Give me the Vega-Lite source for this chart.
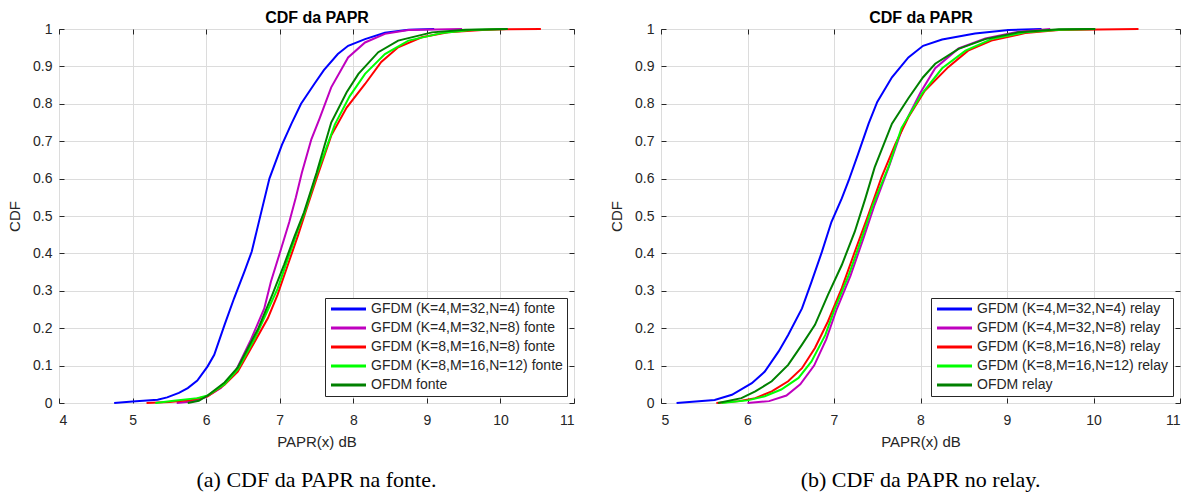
{
"$schema": "https://vega.github.io/schema/vega-lite/v6.json",
"background": "white",
"padding": {"left": 7, "top": 9, "right": 5, "bottom": 5},
"config": {
  "font": "Liberation Sans",
  "view": {"stroke": "#262626", "strokeWidth": 1},
  "concat": {"spacing": 34},
  "axis": {"labelFont": "Liberation Sans", "labelFontSize": 14, "labelColor": "#262626", "titleFont": "Liberation Sans", "titleFontSize": 15, "titleFontWeight": "normal", "titleColor": "#262626", "gridColor": "#dcdcdc", "gridWidth": 1, "domain": false, "tickColor": "#262626", "tickSize": -5, "labelPadding": 12},
  "axisX": {"labelPadding": 15, "titlePadding": 7},
  "legend": {"orient": "bottom-right", "offset": 7, "fillColor": "white", "strokeColor": "#262626", "padding": 4, "rowPadding": 5, "cornerRadius": 0, "symbolType": "M-1,0H6", "symbolSize": 100, "symbolStrokeWidth": 3, "labelFont": "Liberation Sans", "labelFontSize": 14, "labelColor": "#262626", "labelOffset": 28, "labelLimit": 400, "title": null},
  "title": {"font": "Liberation Serif", "fontSize": 22, "fontWeight": "normal", "color": "black", "orient": "bottom", "anchor": "middle", "frame": "group", "offset": 21}
},
"datasets": {
  "fonte": [
    {"s":"GFDM (K=4,M=32,N=4) fonte","x":4.75,"y":0},{"s":"GFDM (K=4,M=32,N=4) fonte","x":5.0,"y":0.004},{"s":"GFDM (K=4,M=32,N=4) fonte","x":5.34,"y":0.009},{"s":"GFDM (K=4,M=32,N=4) fonte","x":5.47,"y":0.015},{"s":"GFDM (K=4,M=32,N=4) fonte","x":5.63,"y":0.027},{"s":"GFDM (K=4,M=32,N=4) fonte","x":5.75,"y":0.04},{"s":"GFDM (K=4,M=32,N=4) fonte","x":5.88,"y":0.06},{"s":"GFDM (K=4,M=32,N=4) fonte","x":6.02,"y":0.098},{"s":"GFDM (K=4,M=32,N=4) fonte","x":6.11,"y":0.129},{"s":"GFDM (K=4,M=32,N=4) fonte","x":6.25,"y":0.209},{"s":"GFDM (K=4,M=32,N=4) fonte","x":6.38,"y":0.28},{"s":"GFDM (K=4,M=32,N=4) fonte","x":6.52,"y":0.351},{"s":"GFDM (K=4,M=32,N=4) fonte","x":6.62,"y":0.405},{"s":"GFDM (K=4,M=32,N=4) fonte","x":6.73,"y":0.495},{"s":"GFDM (K=4,M=32,N=4) fonte","x":6.86,"y":0.6},{"s":"GFDM (K=4,M=32,N=4) fonte","x":7.03,"y":0.69},{"s":"GFDM (K=4,M=32,N=4) fonte","x":7.16,"y":0.747},{"s":"GFDM (K=4,M=32,N=4) fonte","x":7.29,"y":0.8},{"s":"GFDM (K=4,M=32,N=4) fonte","x":7.47,"y":0.853},{"s":"GFDM (K=4,M=32,N=4) fonte","x":7.6,"y":0.89},{"s":"GFDM (K=4,M=32,N=4) fonte","x":7.79,"y":0.933},{"s":"GFDM (K=4,M=32,N=4) fonte","x":7.93,"y":0.955},{"s":"GFDM (K=4,M=32,N=4) fonte","x":8.16,"y":0.973},{"s":"GFDM (K=4,M=32,N=4) fonte","x":8.43,"y":0.99},{"s":"GFDM (K=4,M=32,N=4) fonte","x":8.75,"y":0.998},{"s":"GFDM (K=4,M=32,N=4) fonte","x":9.1,"y":1.0},
    {"s":"GFDM (K=4,M=32,N=8) fonte","x":5.6,"y":0},{"s":"GFDM (K=4,M=32,N=8) fonte","x":5.8,"y":0.004},{"s":"GFDM (K=4,M=32,N=8) fonte","x":6.0,"y":0.016},{"s":"GFDM (K=4,M=32,N=8) fonte","x":6.2,"y":0.04},{"s":"GFDM (K=4,M=32,N=8) fonte","x":6.4,"y":0.085},{"s":"GFDM (K=4,M=32,N=8) fonte","x":6.61,"y":0.17},{"s":"GFDM (K=4,M=32,N=8) fonte","x":6.79,"y":0.253},{"s":"GFDM (K=4,M=32,N=8) fonte","x":6.88,"y":0.324},{"s":"GFDM (K=4,M=32,N=8) fonte","x":7.02,"y":0.413},{"s":"GFDM (K=4,M=32,N=8) fonte","x":7.13,"y":0.484},{"s":"GFDM (K=4,M=32,N=8) fonte","x":7.22,"y":0.55},{"s":"GFDM (K=4,M=32,N=8) fonte","x":7.3,"y":0.615},{"s":"GFDM (K=4,M=32,N=8) fonte","x":7.43,"y":0.705},{"s":"GFDM (K=4,M=32,N=8) fonte","x":7.54,"y":0.76},{"s":"GFDM (K=4,M=32,N=8) fonte","x":7.7,"y":0.844},{"s":"GFDM (K=4,M=32,N=8) fonte","x":7.93,"y":0.924},{"s":"GFDM (K=4,M=32,N=8) fonte","x":8.16,"y":0.964},{"s":"GFDM (K=4,M=32,N=8) fonte","x":8.43,"y":0.987},{"s":"GFDM (K=4,M=32,N=8) fonte","x":8.75,"y":0.997},{"s":"GFDM (K=4,M=32,N=8) fonte","x":9.48,"y":1.0},
    {"s":"GFDM (K=8,M=16,N=8) fonte","x":5.19,"y":0},{"s":"GFDM (K=8,M=16,N=8) fonte","x":5.5,"y":0.003},{"s":"GFDM (K=8,M=16,N=8) fonte","x":5.8,"y":0.008},{"s":"GFDM (K=8,M=16,N=8) fonte","x":6.02,"y":0.018},{"s":"GFDM (K=8,M=16,N=8) fonte","x":6.25,"y":0.049},{"s":"GFDM (K=8,M=16,N=8) fonte","x":6.43,"y":0.084},{"s":"GFDM (K=8,M=16,N=8) fonte","x":6.66,"y":0.164},{"s":"GFDM (K=8,M=16,N=8) fonte","x":6.84,"y":0.227},{"s":"GFDM (K=8,M=16,N=8) fonte","x":6.97,"y":0.289},{"s":"GFDM (K=8,M=16,N=8) fonte","x":7.11,"y":0.369},{"s":"GFDM (K=8,M=16,N=8) fonte","x":7.25,"y":0.449},{"s":"GFDM (K=8,M=16,N=8) fonte","x":7.35,"y":0.51},{"s":"GFDM (K=8,M=16,N=8) fonte","x":7.5,"y":0.6},{"s":"GFDM (K=8,M=16,N=8) fonte","x":7.7,"y":0.715},{"s":"GFDM (K=8,M=16,N=8) fonte","x":7.91,"y":0.79},{"s":"GFDM (K=8,M=16,N=8) fonte","x":8.16,"y":0.853},{"s":"GFDM (K=8,M=16,N=8) fonte","x":8.38,"y":0.912},{"s":"GFDM (K=8,M=16,N=8) fonte","x":8.61,"y":0.951},{"s":"GFDM (K=8,M=16,N=8) fonte","x":8.93,"y":0.978},{"s":"GFDM (K=8,M=16,N=8) fonte","x":9.29,"y":0.991},{"s":"GFDM (K=8,M=16,N=8) fonte","x":9.75,"y":0.997},{"s":"GFDM (K=8,M=16,N=8) fonte","x":10.07,"y":0.999},{"s":"GFDM (K=8,M=16,N=8) fonte","x":10.55,"y":1.0},
    {"s":"GFDM (K=8,M=16,N=12) fonte","x":5.31,"y":0},{"s":"GFDM (K=8,M=16,N=12) fonte","x":5.56,"y":0.006},{"s":"GFDM (K=8,M=16,N=12) fonte","x":5.88,"y":0.013},{"s":"GFDM (K=8,M=16,N=12) fonte","x":6.02,"y":0.02},{"s":"GFDM (K=8,M=16,N=12) fonte","x":6.25,"y":0.05},{"s":"GFDM (K=8,M=16,N=12) fonte","x":6.43,"y":0.09},{"s":"GFDM (K=8,M=16,N=12) fonte","x":6.66,"y":0.172},{"s":"GFDM (K=8,M=16,N=12) fonte","x":6.8,"y":0.232},{"s":"GFDM (K=8,M=16,N=12) fonte","x":6.97,"y":0.305},{"s":"GFDM (K=8,M=16,N=12) fonte","x":7.11,"y":0.385},{"s":"GFDM (K=8,M=16,N=12) fonte","x":7.25,"y":0.465},{"s":"GFDM (K=8,M=16,N=12) fonte","x":7.34,"y":0.51},{"s":"GFDM (K=8,M=16,N=12) fonte","x":7.5,"y":0.61},{"s":"GFDM (K=8,M=16,N=12) fonte","x":7.75,"y":0.745},{"s":"GFDM (K=8,M=16,N=12) fonte","x":7.95,"y":0.82},{"s":"GFDM (K=8,M=16,N=12) fonte","x":8.16,"y":0.88},{"s":"GFDM (K=8,M=16,N=12) fonte","x":8.43,"y":0.933},{"s":"GFDM (K=8,M=16,N=12) fonte","x":8.75,"y":0.969},{"s":"GFDM (K=8,M=16,N=12) fonte","x":9.2,"y":0.989},{"s":"GFDM (K=8,M=16,N=12) fonte","x":9.6,"y":0.997},{"s":"GFDM (K=8,M=16,N=12) fonte","x":10.07,"y":1.0},
    {"s":"OFDM fonte","x":5.75,"y":0},{"s":"OFDM fonte","x":5.9,"y":0.006},{"s":"OFDM fonte","x":6.02,"y":0.02},{"s":"OFDM fonte","x":6.25,"y":0.055},{"s":"OFDM fonte","x":6.43,"y":0.095},{"s":"OFDM fonte","x":6.71,"y":0.2},{"s":"OFDM fonte","x":6.9,"y":0.29},{"s":"OFDM fonte","x":7.06,"y":0.37},{"s":"OFDM fonte","x":7.2,"y":0.445},{"s":"OFDM fonte","x":7.33,"y":0.51},{"s":"OFDM fonte","x":7.5,"y":0.615},{"s":"OFDM fonte","x":7.7,"y":0.75},{"s":"OFDM fonte","x":7.91,"y":0.831},{"s":"OFDM fonte","x":8.07,"y":0.88},{"s":"OFDM fonte","x":8.34,"y":0.938},{"s":"OFDM fonte","x":8.61,"y":0.969},{"s":"OFDM fonte","x":9.07,"y":0.991},{"s":"OFDM fonte","x":9.52,"y":0.998},{"s":"OFDM fonte","x":10.1,"y":1.0}
  ],
  "relay": [
    {"s":"GFDM (K=4,M=32,N=4) relay","x":5.18,"y":0},{"s":"GFDM (K=4,M=32,N=4) relay","x":5.62,"y":0.008},{"s":"GFDM (K=4,M=32,N=4) relay","x":5.82,"y":0.022},{"s":"GFDM (K=4,M=32,N=4) relay","x":6.05,"y":0.053},{"s":"GFDM (K=4,M=32,N=4) relay","x":6.2,"y":0.084},{"s":"GFDM (K=4,M=32,N=4) relay","x":6.36,"y":0.138},{"s":"GFDM (K=4,M=32,N=4) relay","x":6.47,"y":0.182},{"s":"GFDM (K=4,M=32,N=4) relay","x":6.63,"y":0.253},{"s":"GFDM (K=4,M=32,N=4) relay","x":6.74,"y":0.324},{"s":"GFDM (K=4,M=32,N=4) relay","x":6.86,"y":0.404},{"s":"GFDM (K=4,M=32,N=4) relay","x":6.97,"y":0.484},{"s":"GFDM (K=4,M=32,N=4) relay","x":7.09,"y":0.547},{"s":"GFDM (K=4,M=32,N=4) relay","x":7.17,"y":0.595},{"s":"GFDM (K=4,M=32,N=4) relay","x":7.28,"y":0.667},{"s":"GFDM (K=4,M=32,N=4) relay","x":7.4,"y":0.747},{"s":"GFDM (K=4,M=32,N=4) relay","x":7.5,"y":0.805},{"s":"GFDM (K=4,M=32,N=4) relay","x":7.67,"y":0.871},{"s":"GFDM (K=4,M=32,N=4) relay","x":7.86,"y":0.924},{"s":"GFDM (K=4,M=32,N=4) relay","x":8.03,"y":0.955},{"s":"GFDM (K=4,M=32,N=4) relay","x":8.25,"y":0.972},{"s":"GFDM (K=4,M=32,N=4) relay","x":8.63,"y":0.988},{"s":"GFDM (K=4,M=32,N=4) relay","x":9.02,"y":0.997},{"s":"GFDM (K=4,M=32,N=4) relay","x":9.4,"y":1.0},
    {"s":"GFDM (K=4,M=32,N=8) relay","x":6.0,"y":0},{"s":"GFDM (K=4,M=32,N=8) relay","x":6.25,"y":0.005},{"s":"GFDM (K=4,M=32,N=8) relay","x":6.45,"y":0.02},{"s":"GFDM (K=4,M=32,N=8) relay","x":6.61,"y":0.05},{"s":"GFDM (K=4,M=32,N=8) relay","x":6.77,"y":0.1},{"s":"GFDM (K=4,M=32,N=8) relay","x":6.91,"y":0.17},{"s":"GFDM (K=4,M=32,N=8) relay","x":7.03,"y":0.25},{"s":"GFDM (K=4,M=32,N=8) relay","x":7.19,"y":0.34},{"s":"GFDM (K=4,M=32,N=8) relay","x":7.34,"y":0.44},{"s":"GFDM (K=4,M=32,N=8) relay","x":7.47,"y":0.53},{"s":"GFDM (K=4,M=32,N=8) relay","x":7.64,"y":0.635},{"s":"GFDM (K=4,M=32,N=8) relay","x":7.79,"y":0.735},{"s":"GFDM (K=4,M=32,N=8) relay","x":8.0,"y":0.83},{"s":"GFDM (K=4,M=32,N=8) relay","x":8.17,"y":0.895},{"s":"GFDM (K=4,M=32,N=8) relay","x":8.44,"y":0.948},{"s":"GFDM (K=4,M=32,N=8) relay","x":8.75,"y":0.975},{"s":"GFDM (K=4,M=32,N=8) relay","x":9.13,"y":0.993},{"s":"GFDM (K=4,M=32,N=8) relay","x":9.5,"y":1.0},
    {"s":"GFDM (K=8,M=16,N=8) relay","x":5.64,"y":0},{"s":"GFDM (K=8,M=16,N=8) relay","x":5.9,"y":0.005},{"s":"GFDM (K=8,M=16,N=8) relay","x":6.09,"y":0.013},{"s":"GFDM (K=8,M=16,N=8) relay","x":6.28,"y":0.031},{"s":"GFDM (K=8,M=16,N=8) relay","x":6.47,"y":0.058},{"s":"GFDM (K=8,M=16,N=8) relay","x":6.63,"y":0.093},{"s":"GFDM (K=8,M=16,N=8) relay","x":6.78,"y":0.147},{"s":"GFDM (K=8,M=16,N=8) relay","x":6.93,"y":0.218},{"s":"GFDM (K=8,M=16,N=8) relay","x":7.09,"y":0.307},{"s":"GFDM (K=8,M=16,N=8) relay","x":7.24,"y":0.404},{"s":"GFDM (K=8,M=16,N=8) relay","x":7.4,"y":0.505},{"s":"GFDM (K=8,M=16,N=8) relay","x":7.55,"y":0.604},{"s":"GFDM (K=8,M=16,N=8) relay","x":7.71,"y":0.693},{"s":"GFDM (K=8,M=16,N=8) relay","x":7.86,"y":0.764},{"s":"GFDM (K=8,M=16,N=8) relay","x":8.05,"y":0.835},{"s":"GFDM (K=8,M=16,N=8) relay","x":8.32,"y":0.898},{"s":"GFDM (K=8,M=16,N=8) relay","x":8.55,"y":0.942},{"s":"GFDM (K=8,M=16,N=8) relay","x":8.82,"y":0.969},{"s":"GFDM (K=8,M=16,N=8) relay","x":9.21,"y":0.989},{"s":"GFDM (K=8,M=16,N=8) relay","x":9.6,"y":0.997},{"s":"GFDM (K=8,M=16,N=8) relay","x":10.52,"y":1.0},
    {"s":"GFDM (K=8,M=16,N=12) relay","x":5.7,"y":0},{"s":"GFDM (K=8,M=16,N=12) relay","x":6.0,"y":0.007},{"s":"GFDM (K=8,M=16,N=12) relay","x":6.2,"y":0.018},{"s":"GFDM (K=8,M=16,N=12) relay","x":6.39,"y":0.036},{"s":"GFDM (K=8,M=16,N=12) relay","x":6.59,"y":0.067},{"s":"GFDM (K=8,M=16,N=12) relay","x":6.74,"y":0.111},{"s":"GFDM (K=8,M=16,N=12) relay","x":6.9,"y":0.182},{"s":"GFDM (K=8,M=16,N=12) relay","x":7.01,"y":0.253},{"s":"GFDM (K=8,M=16,N=12) relay","x":7.17,"y":0.342},{"s":"GFDM (K=8,M=16,N=12) relay","x":7.32,"y":0.44},{"s":"GFDM (K=8,M=16,N=12) relay","x":7.45,"y":0.53},{"s":"GFDM (K=8,M=16,N=12) relay","x":7.63,"y":0.631},{"s":"GFDM (K=8,M=16,N=12) relay","x":7.78,"y":0.735},{"s":"GFDM (K=8,M=16,N=12) relay","x":8.02,"y":0.828},{"s":"GFDM (K=8,M=16,N=12) relay","x":8.25,"y":0.895},{"s":"GFDM (K=8,M=16,N=12) relay","x":8.52,"y":0.942},{"s":"GFDM (K=8,M=16,N=12) relay","x":8.82,"y":0.973},{"s":"GFDM (K=8,M=16,N=12) relay","x":9.21,"y":0.991},{"s":"GFDM (K=8,M=16,N=12) relay","x":9.6,"y":0.998},{"s":"GFDM (K=8,M=16,N=12) relay","x":10.02,"y":1.0},
    {"s":"OFDM relay","x":5.66,"y":0},{"s":"OFDM relay","x":5.93,"y":0.013},{"s":"OFDM relay","x":6.09,"y":0.031},{"s":"OFDM relay","x":6.28,"y":0.058},{"s":"OFDM relay","x":6.47,"y":0.102},{"s":"OFDM relay","x":6.63,"y":0.156},{"s":"OFDM relay","x":6.78,"y":0.209},{"s":"OFDM relay","x":6.93,"y":0.289},{"s":"OFDM relay","x":7.09,"y":0.369},{"s":"OFDM relay","x":7.24,"y":0.458},{"s":"OFDM relay","x":7.36,"y":0.545},{"s":"OFDM relay","x":7.47,"y":0.63},{"s":"OFDM relay","x":7.67,"y":0.747},{"s":"OFDM relay","x":7.86,"y":0.815},{"s":"OFDM relay","x":8.03,"y":0.871},{"s":"OFDM relay","x":8.17,"y":0.907},{"s":"OFDM relay","x":8.44,"y":0.947},{"s":"OFDM relay","x":8.75,"y":0.973},{"s":"OFDM relay","x":9.13,"y":0.991},{"s":"OFDM relay","x":9.6,"y":0.999},{"s":"OFDM relay","x":10.02,"y":1.0}
  ]
},
"hconcat": [
  {
    "title": {"text": "(a) CDF da PAPR na fonte."},
    "width": 515, "height": 374,
    "data": {"name": "fonte"},
    "layer": [
      {
        "mark": {"type": "line", "strokeWidth": 2},
        "encoding": {
          "x": {"field": "x", "type": "quantitative", "scale": {"domain": [4, 11], "nice": false}, "axis": {"title": "PAPR(x) dB", "values": [4,5,6,7,8,9,10,11], "grid": true}},
          "y": {"field": "y", "type": "quantitative", "scale": {"domain": [0, 1], "nice": false}, "axis": {"title": "CDF", "values": [0,0.1,0.2,0.3,0.4,0.5,0.6,0.7,0.8,0.9,1], "format": "~g", "grid": true, "titlePadding": 10}},
          "color": {"field": "s", "type": "nominal", "scale": {"domain": ["GFDM (K=4,M=32,N=4) fonte","GFDM (K=4,M=32,N=8) fonte","GFDM (K=8,M=16,N=8) fonte","GFDM (K=8,M=16,N=12) fonte","OFDM fonte"], "range": ["#0000ff","#bf00bf","#ff0000","#00ff00","#008000"]}}
        }
      },
      {
        "mark": {"type": "line", "strokeOpacity": 0},
        "encoding": {
          "x": {"field": "x", "type": "quantitative", "axis": {"orient": "top", "labels": false, "grid": false, "values": [4,5,6,7,8,9,10,11], "title": "CDF da PAPR", "titleFontSize": 16, "titleFontWeight": "bold", "titleColor": "black", "titlePadding": 3}},
          "y": {"field": "y", "type": "quantitative", "axis": {"orient": "right", "labels": false, "grid": false, "values": [0,0.1,0.2,0.3,0.4,0.5,0.6,0.7,0.8,0.9,1], "title": null}},
          "detail": {"field": "s"}
        }
      }
    ],
    "resolve": {"axis": {"x": "independent", "y": "independent"}}
  },
  {
    "title": {"text": "(b) CDF da PAPR no relay."},
    "width": 519, "height": 374,
    "data": {"name": "relay"},
    "layer": [
      {
        "mark": {"type": "line", "strokeWidth": 2},
        "encoding": {
          "x": {"field": "x", "type": "quantitative", "scale": {"domain": [5, 11], "nice": false}, "axis": {"title": "PAPR(x) dB", "values": [5,6,7,8,9,10,11], "grid": true}},
          "y": {"field": "y", "type": "quantitative", "scale": {"domain": [0, 1], "nice": false}, "axis": {"title": "CDF", "values": [0,0.1,0.2,0.3,0.4,0.5,0.6,0.7,0.8,0.9,1], "format": "~g", "grid": true, "titlePadding": 10}},
          "color": {"field": "s", "type": "nominal", "scale": {"domain": ["GFDM (K=4,M=32,N=4) relay","GFDM (K=4,M=32,N=8) relay","GFDM (K=8,M=16,N=8) relay","GFDM (K=8,M=16,N=12) relay","OFDM relay"], "range": ["#0000ff","#bf00bf","#ff0000","#00ff00","#008000"]}}
        }
      },
      {
        "mark": {"type": "line", "strokeOpacity": 0},
        "encoding": {
          "x": {"field": "x", "type": "quantitative", "axis": {"orient": "top", "labels": false, "grid": false, "values": [5,6,7,8,9,10,11], "title": "CDF da PAPR", "titleFontSize": 16, "titleFontWeight": "bold", "titleColor": "black", "titlePadding": 3}},
          "y": {"field": "y", "type": "quantitative", "axis": {"orient": "right", "labels": false, "grid": false, "values": [0,0.1,0.2,0.3,0.4,0.5,0.6,0.7,0.8,0.9,1], "title": null}},
          "detail": {"field": "s"}
        }
      }
    ],
    "resolve": {"axis": {"x": "independent", "y": "independent"}}
  }
],
"resolve": {"scale": {"color": "independent", "x": "independent", "y": "independent"}, "legend": {"color": "independent"}}
}
